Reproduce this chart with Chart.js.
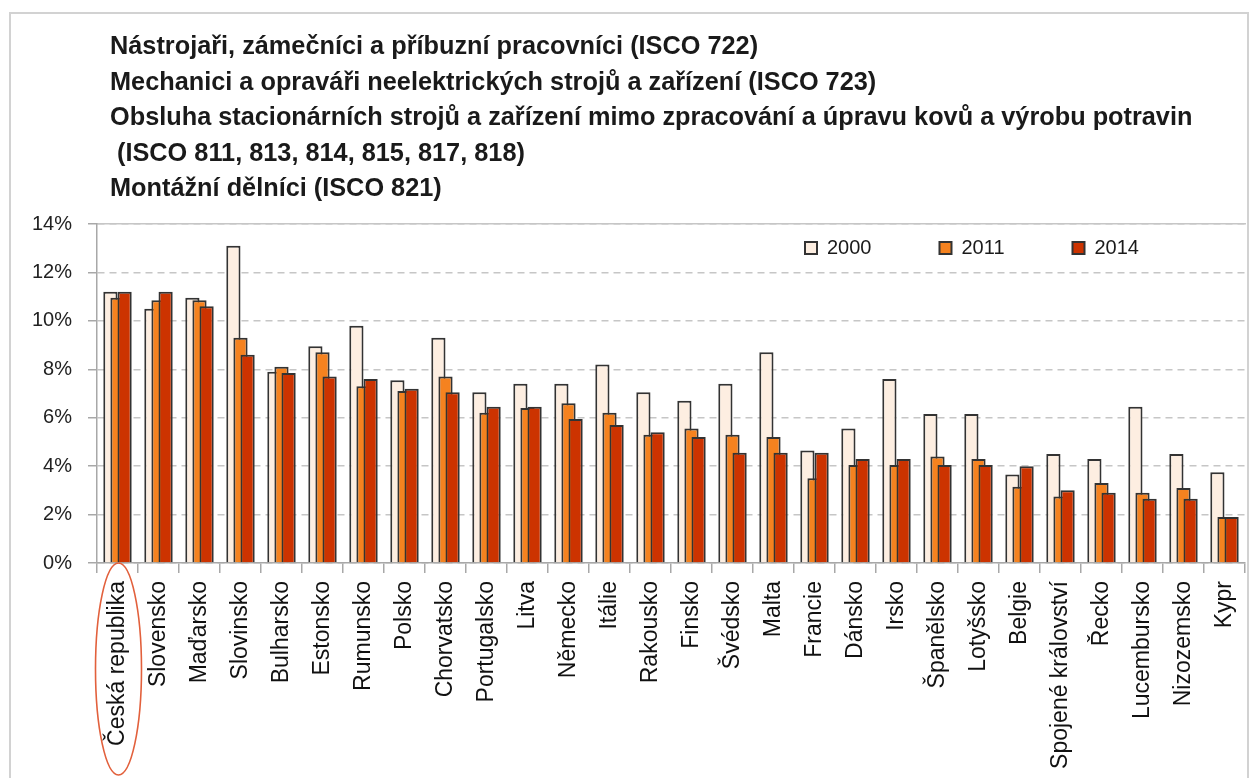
<!DOCTYPE html>
<html lang="cs">
<head>
  <meta charset="UTF-8">
  <title>Podíl vybraných profesí</title>
  <script src="https://cdn.jsdelivr.net/npm/chart.js"></script>
  <style>
    html, body { margin: 0; padding: 0; width: 1249px; height: 778px; overflow: hidden; background: #fff; }
    .frame { position: absolute; left: 9px; top: 12px; width: 1236px; height: 800px; border: 2px solid #d2d2d2; }
    .title { position: absolute; left: 110px; top: 28px; font: bold 25.3px 'Liberation Sans', Arial, sans-serif;
             line-height: 35.5px; color: #1a1a1a; white-space: pre; z-index: 2; }
    canvas { position: absolute; left: 0; top: 0; }
  </style>
</head>
<body>
  <div class="frame"></div>
  <div class="title">Nástrojaři, zámečníci a příbuzní pracovníci (ISCO 722)
Mechanici a opraváři neelektrických strojů a zařízení (ISCO 723)
Obsluha stacionárních strojů a zařízení mimo zpracování a úpravu kovů a výrobu potravin
 (ISCO 811, 813, 814, 815, 817, 818)
Montážní dělníci (ISCO 821)</div>
  <canvas id="chart" width="1249" height="778"></canvas>

  <script>
    const countries = ['Česká republika', 'Slovensko', 'Maďarsko', 'Slovinsko', 'Bulharsko', 'Estonsko',
      'Rumunsko', 'Polsko', 'Chorvatsko', 'Portugalsko', 'Litva', 'Německo', 'Itálie', 'Rakousko',
      'Finsko', 'Švédsko', 'Malta', 'Francie', 'Dánsko', 'Irsko', 'Španělsko', 'Lotyšsko', 'Belgie',
      'Spojené království', 'Řecko', 'Lucembursko', 'Nizozemsko', 'Kypr'];
    const years = ['2000', '2011', '2014'];
    const share2000 = [11.2, 10.5, 10.95, 13.1, 7.9, 8.95, 9.8, 7.55, 9.3, 7.05, 7.4, 7.4, 8.2, 7.05,
      6.7, 7.4, 8.7, 4.65, 5.55, 7.6, 6.15, 6.15, 3.65, 4.5, 4.3, 6.45, 4.5, 3.75];
    const share2011 = [10.95, 10.85, 10.85, 9.3, 8.1, 8.7, 7.3, 7.1, 7.7, 6.2, 6.4, 6.6, 6.2, 5.3,
      5.55, 5.3, 5.2, 3.5, 4.05, 4.05, 4.4, 4.3, 3.15, 2.75, 3.3, 2.9, 3.1, 1.9];
    const share2014 = [11.2, 11.2, 10.6, 8.6, 7.85, 7.7, 7.6, 7.2, 7.05, 6.45, 6.45, 5.95, 5.7, 5.4,
      5.2, 4.55, 4.55, 4.55, 4.3, 4.3, 4.05, 4.05, 4.0, 3.0, 2.9, 2.65, 2.65, 1.9];
    const yTicks = [0, 2, 4, 6, 8, 10, 12, 14];

    const barColors = ['#fdeee1', '#f5821f', '#cc3300'];
    const axisGrey = '#a8a8a8';
    const font = "'Liberation Sans', Arial, sans-serif";
    const legendPad = 68;

    // later years are painted over earlier ones (Excel-style overlap)
    const paintInOrder = {
      id: 'paintInOrder',
      beforeDatasetsDraw(chart) {
        chart.data.datasets.forEach((ds, i) => {
          const meta = chart.getDatasetMeta(i);
          if (!meta.hidden) meta.controller.draw();
        });
      },
      beforeDatasetDraw() { return false; }
    };

    // the legend is laid out on top, then moved inside the plot (top right)
    const placeLegend = {
      id: 'placeLegend',
      beforeDraw(chart) {
        const lg = chart.legend;
        lg.left = 805 - legendPad;
        lg.right = chart.chartArea.right;
        lg.top = 248 - legendPad - 10;
        lg.bottom = 280;
      }
    };

    // red ring round the Czech label
    const ring = {
      id: 'ring',
      afterDraw(chart) {
        const x = chart.scales.x.getPixelForValue(0);
        const top = chart.chartArea.bottom;
        const ctx = chart.ctx;
        ctx.save();
        ctx.strokeStyle = '#e2603c';
        ctx.lineWidth = 1.6;
        ctx.beginPath();
        ctx.ellipse(x + 1, top + 106, 23, 106, 0, 0, Math.PI * 2);
        ctx.stroke();
        ctx.restore();
      }
    };

    new Chart(document.getElementById('chart').getContext('2d'), {
      type: 'bar',
      data: {
        labels: countries,
        datasets: [share2000, share2011, share2014].map((values, i) => ({
          label: years[i],
          data: values,
          backgroundColor: barColors[i],
          borderColor: '#333',
          borderWidth: 2,
          borderSkipped: 'start',
          categoryPercentage: 0.52,
          barPercentage: 2.0
        }))
      },
      options: {
        responsive: false,
        animation: false,
        layout: { padding: { top: 126, left: 0, right: 4, bottom: 0 } },
        plugins: {
          legend: {
            position: 'top',
            align: 'start',
            labels: {
              boxWidth: 12, boxHeight: 12, padding: legendPad,
              color: '#1a1a1a', font: { family: font, size: 20 }
            }
          },
          tooltip: { enabled: false }
        },
        scales: {
          x: {
            afterFit: scale => {
              scale.height = 778 - 563;
              scale.paddingLeft = 0;
              scale.paddingRight = 0;
            },
            grid: { drawOnChartArea: false, tickLength: 10, color: axisGrey, lineWidth: 1.5 },
            border: { color: axisGrey, width: 1.5 },
            ticks: {
              autoSkip: false, minRotation: 90, maxRotation: 90, padding: 8,
              color: '#111', font: { family: font, size: 23 }
            }
          },
          xTop: {
            type: 'category',
            position: 'top',
            labels: countries,
            grid: { display: false, drawTicks: false },
            ticks: { display: false },
            border: { color: '#c6c6c6', width: 1.5 }
          },
          y: {
            min: 0, max: 14,
            afterFit: scale => { scale.width = 97; },
            afterBuildTicks: scale => { scale.ticks = yTicks.map(v => ({ value: v })); },
            grid: { color: '#c6c6c6', lineWidth: 1.5, tickLength: 9, tickColor: axisGrey, tickBorderDash: [] },
            border: { color: axisGrey, width: 1.5, dash: [7, 5] },
            ticks: {
              padding: 16, color: '#222', font: { family: font, size: 20 },
              callback: v => v + '%'
            }
          }
        }
      },
      plugins: [paintInOrder, placeLegend, ring]
    });
  </script>
</body>
</html>
